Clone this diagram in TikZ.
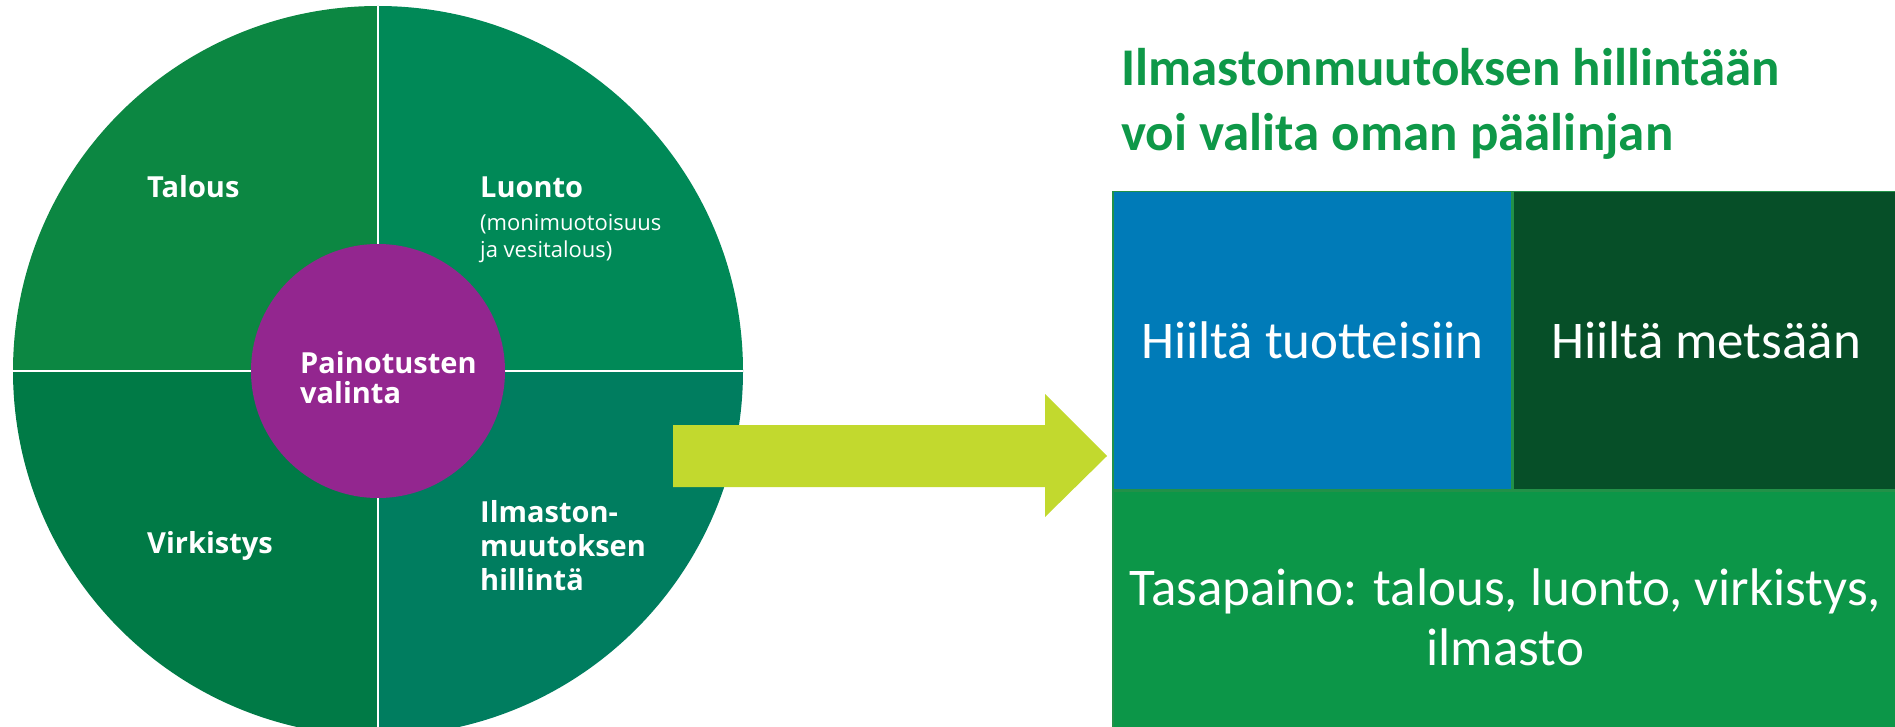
\documentclass[tikz,border=0pt]{standalone}
\usepackage{fontspec}
\usetikzlibrary{positioning}
\setmainfont{Open Sans}
\newfontfamily\calfont{Carlito}

\definecolor{talousgreen}{RGB}{12,135,66}
\definecolor{luontogreen}{RGB}{0,137,87}
\definecolor{virkistysgreen}{RGB}{0,122,70}
\definecolor{ilmastogreen}{RGB}{0,125,95}
\definecolor{choicepurple}{RGB}{147,38,143}
\definecolor{arrowlime}{RGB}{194,217,46}
\definecolor{productblue}{RGB}{0,123,184}
\definecolor{forestdark}{RGB}{6,79,40}
\definecolor{balancegreen}{RGB}{12,150,72}
\definecolor{titlegreen}{RGB}{14,152,72}
\definecolor{edgegreen}{RGB}{34,145,72}

\tikzset{
  wheellabel/.style={text=white, inner sep=0pt, align=left, anchor=west,
    font=\bfseries\fontsize{29}{34}\selectfont},
  wheelsmall/.style={text=white, inner sep=0pt, align=left,
    font=\fontsize{22}{27}\selectfont},
  choicebox/.style={draw=edgegreen, line width=1.5pt, text=white, inner sep=0pt,
    anchor=north west, font=\calfont\fontsize{53}{60}\selectfont}
}

\begin{document}
\begin{tikzpicture}[x=1pt,y=-1pt]
	\useasboundingbox (0,0) rectangle (1895,727);
	\clip (0,0) rectangle (1895,727);
	
	\coordinate (hub) at (378,371);
	
	% wheel of four sectors
	\begin{scope}
		\clip (hub) circle (365);
		\fill[talousgreen] (hub) rectangle ++(-370,-370);
		\fill[luontogreen] (hub) rectangle ++(370,-370);
		\fill[virkistysgreen] (hub) rectangle ++(-370,370);
		\fill[ilmastogreen] (hub) rectangle ++(370,370);
		\draw[white, line width=2pt] (hub) ++(0,-370) -- ++(0,740);
		\draw[white, line width=2pt] (hub) ++(-370,0) -- ++(740,0);
	\end{scope}
	
	\node[circle, fill=choicepurple, minimum size=254pt, inner sep=0pt] (choice) at (hub) {};
	\node[wheellabel] (choicetext) at (300,378) {Painotusten\\[-4pt]valinta};
	
	\node[wheellabel] (talous) at (147,187) {Talous};
	\node[wheellabel] (luonto) at (480,187) {Luonto};
	\node[wheelsmall, below=16pt of luonto.south west, anchor=north west] (luontonote)
		{(monimuotoisuus\\ja vesitalous)};
	\node[wheellabel] (virkistys) at (147,546) {Virkistys};
	\node[wheellabel] (ilmasto) at (480,546) {Ilmaston-\\muutoksen\\hillintä};
	
	% block arrow
	\fill[arrowlime] (673,425) -- (1045,425) -- (1045,394) -- (1107,456)
		-- (1045,517) -- (1045,487) -- (673,487) -- cycle;
	
	\node[text=titlegreen, inner sep=0pt, anchor=west, align=left,
		font=\calfont\bfseries\fontsize{53}{65}\selectfont] (title) at (1121,104)
		{Ilmastonmuutoksen hillintään\\voi valita oman päälinjan};
	
	\node[choicebox, fill=productblue, minimum width=399pt, minimum height=298pt]
		(products) at (1112,191) {Hiiltä tuotteisiin};
	\node[choicebox, fill=forestdark, minimum width=386pt, minimum height=298pt,
		right=0pt of products, anchor=west] (forest) {Hiiltä metsään};
	\node[choicebox, fill=balancegreen, minimum width=785pt, minimum height=252pt,
		align=center, below=0pt of products.south west, anchor=north west] (balance)
		{Tasapaino: talous, luonto, virkistys,\\ilmasto};
\end{tikzpicture}
\end{document}
